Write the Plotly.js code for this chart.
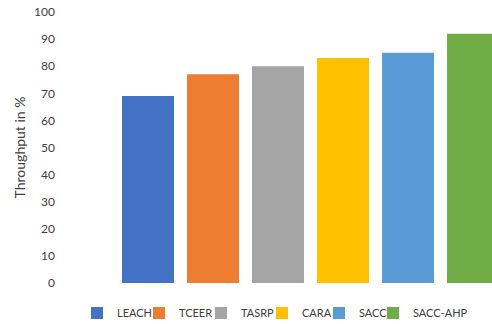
<!DOCTYPE html>
<html><head><meta charset="utf-8">
<script src="https://cdn.plot.ly/plotly-3.0.1.min.js"></script>
<style>html,body{margin:0;padding:0;background:#fff}#chart{width:492px;height:324px}</style>
</head><body><div id="chart"></div>
<script>
const protocols = ["LEACH", "TCEER", "TASRP", "CARA", "SACC", "SACC-AHP"];
const throughput = [69, 77, 80, 83, 85, 92];
const colors = ["#4472C4", "#ED7D31", "#A5A5A5", "#FFC000", "#5B9BD5", "#70AD47"];
const yTicks = [0, 10, 20, 30, 40, 50, 60, 70, 80, 90, 100];
// left edge (px) of each legend entry, matching the reference's layout
const legendLeftPx = [77, 139, 201, 262, 319, 373];

const legendIds = protocols.map((p, i) => i === 0 ? "legend" : "legend" + (i + 1));

const traces = protocols.map((p, i) => ({
  type: "bar",
  name: p,
  x: [i],
  y: [throughput[i]],
  width: 0.8,
  marker: {color: colors[i]},
  legend: legendIds[i],
  hoverinfo: "name+y"
}));

const W = 492, H = 324;
const font = {family: "Lato, 'Open Sans', sans-serif", size: 12, color: "#404040"};
const layout = {
  width: W, height: H,
  margin: {l: 60, r: 0, t: 12, b: 41, autoexpand: false},
  barmode: "overlay",
  paper_bgcolor: "#fff", plot_bgcolor: "#fff",
  font: font,
  showlegend: true,
  xaxis: {range: [-1.354, 5.292], showticklabels: false, showgrid: false, zeroline: false, showline: false, ticks: ""},
  yaxis: {range: [0, 100], tickvals: yTicks, ticktext: yTicks.map(String), showgrid: false, zeroline: false,
          showline: false, ticks: "", ticklabelstandoff: 4,
          title: {text: "Throughput in %", font: {family: font.family, size: 14, color: "#404040"}, standoff: 5}}
};
legendIds.forEach((id, i) => {
  layout[id] = {orientation: "h", xref: "container", yref: "container",
    x: legendLeftPx[i] / W, xanchor: "left", y: (H - 313) / H, yanchor: "middle",
    bgcolor: "rgba(0,0,0,0)", itemwidth: 30,
    font: {family: font.family, size: 11, color: "#404040"}};
});
Plotly.newPlot("chart", traces, layout, {displayModeBar: false, staticPlot: true});
</script></body></html>
